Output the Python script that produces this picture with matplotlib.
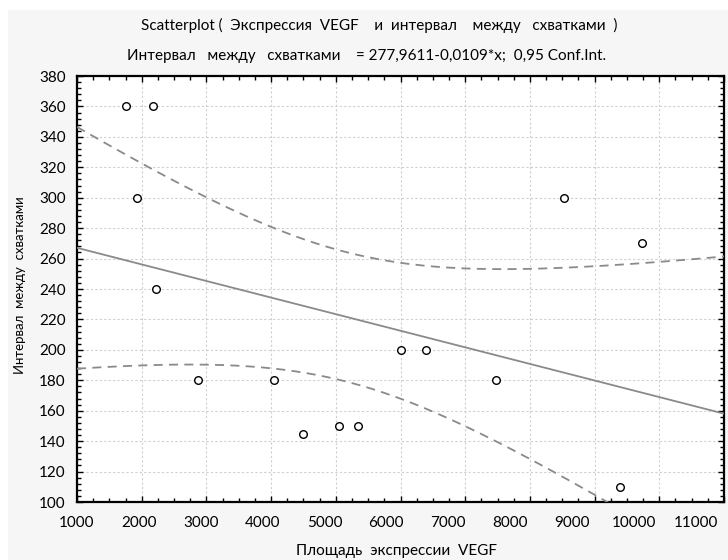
import numpy as np
import matplotlib
matplotlib.use("Agg")
import matplotlib.pyplot as plt
from matplotlib.patches import Rectangle
from matplotlib.ticker import MultipleLocator, NullFormatter

# VEGF expression area vs. interval between contractions
vegf_area = [1750, 2175, 1920, 2220, 2875, 4050, 4500, 5050, 5350,
             6000, 6400, 7475, 9400, 8525, 9730]
interval = [360, 360, 300, 240, 180, 180, 145, 150, 150,
            200, 200, 180, 110, 300, 270]

intercept = 277.9611
slope = -0.0109
t_crit = 2.1604  # Student t, 0.975 quantile, 13 degrees of freedom

x_ticks = [1000, 2000, 3000, 4000, 5000, 6000, 7000, 8000, 9000, 10000, 11000]
y_ticks = [100, 120, 140, 160, 180, 200, 220, 240, 260, 280, 300, 320, 340, 360, 380]

title_1 = "Scatterplot (  Экспрессия  VEGF    и  интервал    между   схватками  )"
title_2 = "Интервал   между   схватками    = 277,9611-0,0109*x;  0,95 Conf.Int."
x_label = "Площадь  экспрессии  VEGF"
y_label = "Интервал  между  схватками"

plt.rcParams['font.family'] = ['Lato', 'DejaVu Sans']

W, H = 728, 560
fig = plt.figure(figsize=(W / 100, H / 100), dpi=100)
fig.patch.set_facecolor("white")
fig.add_artist(Rectangle((8 / W, 0), 1 - 8 / W, 1 - 10 / H,
                         transform=fig.transFigure, facecolor="#f6f6f6",
                         edgecolor="none", zorder=0))

ax = fig.add_axes([77 / W, 1 - 502 / H, (724 - 77) / W, (502 - 76) / H])
ax.set_facecolor("white")

x = np.asarray(vegf_area, float)
y = np.asarray(interval, float)
n = len(x)

# regression line and 95% confidence band of the mean response
xs = np.linspace(1000, 11000, 300)
fit = intercept + slope * xs
resid = y - (intercept + slope * x)
s = np.sqrt(np.sum(resid ** 2) / (n - 2))
sxx = np.sum((x - x.mean()) ** 2)
half = t_crit * s * np.sqrt(1 / n + (xs - x.mean()) ** 2 / sxx)

line_col = "#8a8a8a"
ax.plot(xs, fit, color=line_col, lw=1.3, zorder=3)
ax.plot(xs, fit + half, color=line_col, lw=1.3, ls=(0, (5, 3.5)), zorder=3)
ax.plot(xs, fit - half, color=line_col, lw=1.3, ls=(0, (5, 3.5)), zorder=3)

ax.scatter(x, y, s=30, facecolors="white", edgecolors="black",
           linewidths=1.0, zorder=4)

ax.set_xlim(1000, 11000)
ax.set_ylim(100, 380)
ax.set_xticks(x_ticks)
ax.set_yticks(y_ticks)
ax.xaxis.set_major_formatter(NullFormatter())
ax.xaxis.set_minor_locator(MultipleLocator(250))
ax.yaxis.set_minor_locator(MultipleLocator(4))
ax.tick_params(which="both", direction="in", top=True, right=True,
               color="black", width=1.0)
ax.tick_params(which="major", length=4.5)
ax.tick_params(which="minor", length=3)
ax.tick_params(axis="y", which="major", labelsize=11, pad=8)

# the x labels are laid out on a slightly compressed scale
lab_k = 0.9563
secax = ax.secondary_xaxis(
    "bottom",
    functions=(lambda d: 1000 + (d - 1000) / lab_k,
               lambda v: 1000 + (v - 1000) * lab_k))
secax.set_xticks(x_ticks)
secax.tick_params(length=0, labelsize=11, pad=10)
secax.spines["bottom"].set_visible(False)

ax.grid(True, which="major", color="#cfcfcf", lw=0.8, ls=(0, (2, 2)))
ax.set_axisbelow(True)
for sp in ax.spines.values():
    sp.set_linewidth(1.6)
    sp.set_color("black")

fig.text(379 / W, 1 - 25 / H, title_1, ha="center", va="center", fontsize=11)
fig.text(367 / W, 1 - 56 / H, title_2, ha="center", va="center", fontsize=11)
fig.text(397 / W, 1 - 551 / H, x_label, ha="center", va="center", fontsize=11)
fig.text(20 / W, 1 - 285 / H, y_label, ha="center", va="center",
         rotation=90, fontsize=9.5)

fig.savefig("out.png", dpi=100)
